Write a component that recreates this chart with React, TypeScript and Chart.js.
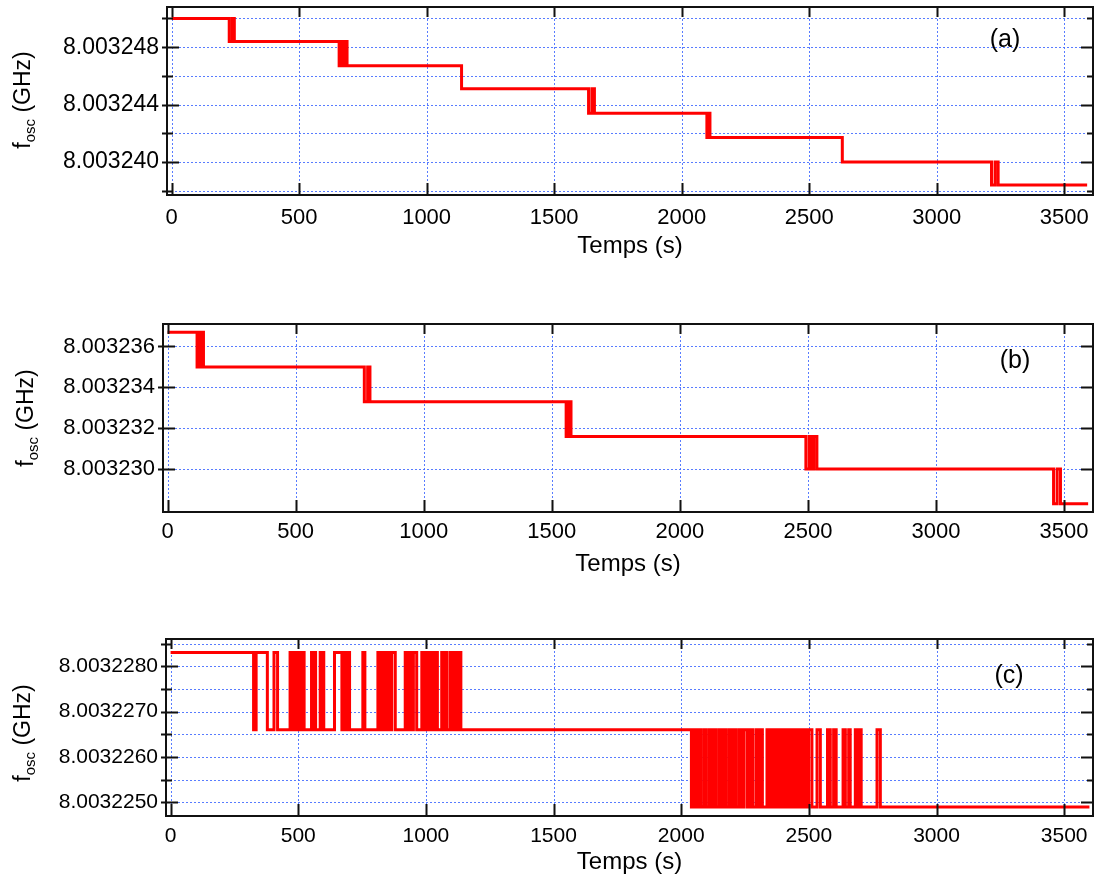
import React, { useEffect, useRef } from 'react';
import { Chart, registerables } from 'chart.js';

Chart.register(...registerables);

const FONT = '"Liberation Sans", Arial, Helvetica, sans-serif';
const RED = '#ff0000';
const GRID = 'rgba(70,110,255,0.9)';

// ---------- shared x axis ----------
const xTicks = [0, 500, 1000, 1500, 2000, 2500, 3000, 3500];
const xTitle = 'Temps (s)';

// ---------- panel (a) ----------
const aTimes = [0, 226, 238, 246, 657, 661, 665, 669, 673, 677, 681, 685, 688, 1137, 1635, 1648, 1658, 2099, 2102, 2105, 2108, 2111, 2630, 3215, 3229, 3241, 3590];
const aValues = [
  8.00325, 8.0032484, 8.00325, 8.0032484, 8.0032467, 8.0032484, 8.0032467, 8.0032484, 8.0032467, 8.0032484, 8.0032467, 8.0032484, 8.0032467,
  8.0032451, 8.0032434, 8.0032451, 8.0032434, 8.0032417, 8.0032434, 8.0032417, 8.0032434, 8.0032417, 8.00324, 8.0032384, 8.00324, 8.0032384, 8.0032384,
];
const aYMajor = [8.00324, 8.003244, 8.003248];
const aYMinor = [8.003238, 8.003242, 8.003246, 8.00325];

// ---------- panel (b) ----------
const bTimes = [0, 115, 119, 123, 127, 131, 135, 140, 768, 781, 790, 1556, 1566, 1575, 2492, 2505, 2515, 2523, 2535, 3459, 3473, 3486, 3594];
const bValues = [
  8.0032367, 8.003235, 8.0032367, 8.003235, 8.0032367, 8.003235, 8.0032367, 8.003235,
  8.0032333, 8.003235, 8.0032333, 8.0032316, 8.0032333, 8.0032316,
  8.00323, 8.0032316, 8.00323, 8.0032316, 8.00323, 8.0032283, 8.00323, 8.0032283, 8.0032283,
];
const bYMajor = [8.00323, 8.003232, 8.003234, 8.003236];
const bYMinor: number[] = [];

// ---------- panel (c) ----------
const cLevels = [8.0032283, 8.0032266, 8.0032249];
const cTimes = [
  0, 325, 335, 379, 405, 419,
  468, 475, 484, 490, 497, 505, 514, 523,
  552, 558, 563, 568,
  586, 591, 595, 600,
  642, 671, 677, 684, 690, 701,
  753, 761,
  812, 821, 830, 840, 850, 857, 866, 880,
  919, 925, 936, 945, 951, 964,
  984, 993, 1001, 1010, 1017, 1027, 1036, 1045,
  1062, 1069, 1075, 1082,
  1095, 1102, 1111, 1119, 1128, 1137,
  2040, 2050, 2058, 2069, 2078, 2090, 2098, 2110,
  2118, 2128, 2137, 2149, 2158, 2168, 2176, 2188, 2197, 2207, 2216, 2228,
  2236, 2246, 2259, 2270, 2280, 2293, 2303, 2312, 2318,
  2336, 2345, 2354, 2364, 2372, 2383, 2391, 2401, 2410, 2420, 2428, 2439, 2447, 2457, 2466, 2476, 2484, 2492,
  2499, 2512, 2532, 2545,
  2573, 2584, 2597, 2607,
  2634, 2643, 2656, 2662,
  2682, 2691, 2695, 2705,
  2767, 2780,
  3599,
];
const cStates = [
  0, 1, 0, 1, 0, 1,
  0, 1, 0, 1, 0, 1, 0, 1,
  0, 1, 0, 1,
  0, 1, 0, 1,
  0, 1, 0, 1, 0, 1,
  0, 1,
  0, 1, 0, 1, 0, 1, 0, 1,
  0, 1, 0, 1, 0, 1,
  0, 1, 0, 1, 0, 1, 0, 1,
  0, 1, 0, 1,
  0, 1, 0, 1, 0, 1,
  2, 1, 2, 1, 2, 1, 2, 1,
  2, 1, 2, 1, 2, 1, 2, 1, 2, 1, 2, 1,
  2, 1, 2, 1, 2, 1, 2, 1, 2,
  1, 2, 1, 2, 1, 2, 1, 2, 1, 2, 1, 2, 1, 2, 1, 2, 1, 2,
  1, 2, 1, 2,
  1, 2, 1, 2,
  1, 2, 1, 2,
  1, 2, 1, 2,
  1, 2,
  2,
];
const cValues = cStates.map((s) => cLevels[s]);
const cYMajor = [8.003225, 8.003226, 8.003227, 8.003228];
const cYMinor = [8.0032255, 8.0032265, 8.0032275, 8.0032285];

type Panel = {
  label: string;
  times: number[];
  values: number[];
  yMin: number;
  yMax: number;
  yMajor: number[];
  yMinor: number[];
  decimals: number;
  top: number;
  height: number;
  padTop: number;
  padRight: number;
  yWidth: number;
  xHeight: number;
  xLabelPad: number;
  xTitleOffset: number;
  yTitleX: number;
  yTitleY: number;
  tagX: number;
  tagY: number;
  yTickFont: number;
  xTickFont: number;
};

const panels: Panel[] = [
  {
    label: '(a)', times: aTimes, values: aValues, yMin: 8.0032377, yMax: 8.0032508,
    yMajor: aYMajor, yMinor: aYMinor, decimals: 6,
    top: 0, height: 262, padTop: 7, padRight: 2, yWidth: 167, xHeight: 67,
    xLabelPad: 10, xTitleOffset: 51, yTitleX: 22, yTitleY: 100, tagX: 1005, tagY: 40, yTickFont: 23, xTickFont: 22,
  },
  {
    label: '(b)', times: bTimes, values: bValues, yMin: 8.0032279, yMax: 8.0032371,
    yMajor: bYMajor, yMinor: bYMinor, decimals: 6,
    top: 300, height: 290, padTop: 24, padRight: 2, yWidth: 163, xHeight: 78,
    xLabelPad: 7, xTitleOffset: 52, yTitleX: 25, yTitleY: 418, tagX: 1015, tagY: 361, yTickFont: 22, xTickFont: 22,
  },
  {
    label: '(c)', times: cTimes, values: cValues, yMin: 8.0032247, yMax: 8.0032286,
    yMajor: cYMajor, yMinor: cYMinor, decimals: 7,
    top: 620, height: 262, padTop: 19, padRight: 2, yWidth: 166, xHeight: 66,
    xLabelPad: 8, xTitleOffset: 46, yTitleX: 22, yTitleY: 733, tagX: 1009, tagY: 676, yTickFont: 21, xTickFont: 21,
  },
];

const isIn = (arr: number[], v: number) => arr.some((a) => Math.abs(a - v) < 1e-11);

function makePlugin(p: Panel) {
  return {
    id: 'frame' + p.label,
    beforeDatasetsDraw(chart: any) {
      const { ctx, chartArea: a, scales } = chart;
      const x = scales.x;
      const y = scales.y;
      ctx.save();
      ctx.strokeStyle = GRID;
      ctx.lineWidth = 1;
      ctx.setLineDash([2, 2]);
      ctx.beginPath();
      for (const t of x.ticks) {
        const px = Math.round(x.getPixelForValue(t.value)) + 0.5;
        ctx.moveTo(px, a.top);
        ctx.lineTo(px, a.bottom);
      }
      for (const t of y.ticks) {
        const py = Math.round(y.getPixelForValue(t.value)) + 0.5;
        ctx.moveTo(a.left, py);
        ctx.lineTo(a.right, py);
      }
      ctx.stroke();
      ctx.restore();
    },
    afterDatasetsDraw(chart: any) {
      const { ctx, chartArea: a, scales } = chart;
      const x = scales.x;
      const y = scales.y;
      ctx.save();
      ctx.setLineDash([]);
      ctx.strokeStyle = '#111';
      ctx.lineWidth = 2;
      ctx.strokeRect(a.left, a.top, a.right - a.left, a.bottom - a.top);
      ctx.beginPath();
      for (const t of x.ticks) {
        const px = Math.round(x.getPixelForValue(t.value)) + 0.5;
        ctx.moveTo(px, a.bottom);
        ctx.lineTo(px, a.bottom - 12);
        ctx.moveTo(px, a.top);
        ctx.lineTo(px, a.top + 10);
      }
      for (const t of y.ticks) {
        const py = Math.round(y.getPixelForValue(t.value)) + 0.5;
        const len = isIn(p.yMajor, t.value) ? 12 : 6;
        ctx.moveTo(a.left - 5, py);
        ctx.lineTo(a.left + len, py);
        ctx.moveTo(a.right, py);
        ctx.lineTo(a.right - len, py);
      }
      ctx.stroke();

      ctx.fillStyle = '#000';
      // x title
      ctx.font = `24px ${FONT}`;
      ctx.textAlign = 'center';
      ctx.textBaseline = 'middle';
      ctx.fillText(xTitle, (a.left + a.right) / 2, a.bottom + p.xTitleOffset);

      // panel tag
      ctx.font = `25px ${FONT}`;
      ctx.fillText(p.label, p.tagX, p.tagY - p.top);

      // y title with subscript
      const F = 23;
      const S = 15;
      ctx.translate(p.yTitleX, p.yTitleY - p.top);
      ctx.rotate(-Math.PI / 2);
      ctx.textAlign = 'left';
      ctx.textBaseline = 'alphabetic';
      ctx.font = `${F}px ${FONT}`;
      const w1 = ctx.measureText('f').width;
      const w3 = ctx.measureText(' (GHz)').width;
      ctx.font = `${S}px ${FONT}`;
      const w2 = ctx.measureText('osc').width;
      const total = w1 + w2 + w3;
      let cx = -total / 2;
      const base = F * 0.36;
      ctx.font = `${F}px ${FONT}`;
      ctx.fillText('f', cx, base);
      cx += w1;
      ctx.font = `${S}px ${FONT}`;
      ctx.fillText('osc', cx, base + F * 0.22);
      cx += w2;
      ctx.font = `${F}px ${FONT}`;
      ctx.fillText(' (GHz)', cx, base);
      ctx.restore();
    },
  };
}

function PanelChart({ p }: { p: Panel }) {
  const ref = useRef<HTMLCanvasElement | null>(null);
  useEffect(() => {
    if (!ref.current) return;
    const data = p.times.map((t, i) => ({ x: t, y: p.values[i] }));
    const yTicks = [...p.yMinor, ...p.yMajor].sort((u, v) => u - v);
    const chart = new Chart(ref.current, {
      type: 'line',
      data: {
        datasets: [
          {
            data,
            borderColor: RED,
            backgroundColor: RED,
            borderWidth: 3,
            pointRadius: 0,
            stepped: 'before',
            fill: false,
            tension: 0,
          },
        ],
      },
      options: {
        animation: false,
        responsive: false,
        layout: { padding: { top: p.padTop, right: p.padRight, left: 0, bottom: 0 } },
        plugins: { legend: { display: false }, tooltip: { enabled: false } },
        scales: {
          x: {
            type: 'linear',
            min: -18,
            max: 3613,
            grid: { display: false, drawTicks: false },
            border: { display: false },
            afterBuildTicks: (s: any) => {
              s.ticks = xTicks.map((v) => ({ value: v }));
            },
            afterFit: (s: any) => {
              s.height = p.xHeight;
              s.paddingLeft = 0;
              s.paddingRight = 0;
              s.paddingTop = 0;
              s.paddingBottom = 0;
            },
            ticks: {
              autoSkip: false,
              maxRotation: 0,
              padding: p.xLabelPad,
              color: '#000',
              font: { family: FONT, size: p.xTickFont },
              callback: (v: any) => String(v),
            },
          },
          y: {
            type: 'linear',
            min: p.yMin,
            max: p.yMax,
            grid: { display: false, drawTicks: false },
            border: { display: false },
            afterBuildTicks: (s: any) => {
              s.ticks = yTicks.map((v) => ({ value: v }));
            },
            afterFit: (s: any) => {
              s.width = p.yWidth;
              s.paddingLeft = 0;
              s.paddingRight = 0;
              s.paddingTop = 0;
              s.paddingBottom = 0;
            },
            ticks: {
              autoSkip: false,
              padding: 8,
              color: '#000',
              font: { family: FONT, size: p.yTickFont },
              callback: (v: any) => (isIn(p.yMajor, Number(v)) ? Number(v).toFixed(p.decimals) : ''),
            },
          },
        },
      },
      plugins: [makePlugin(p)],
    } as any);
    return () => chart.destroy();
  }, [p]);
  return (
    <div style={{ position: 'absolute', left: 0, top: p.top, width: 1095, height: p.height }}>
      <canvas ref={ref} width={1095} height={p.height} style={{ display: 'block' }} />
    </div>
  );
}

export default function App() {
  return (
    <div style={{ position: 'absolute', left: 0, top: 0, width: 1095, height: 882, background: '#fff' }}>
      {panels.map((p) => (
        <PanelChart key={p.label} p={p} />
      ))}
    </div>
  );
}
